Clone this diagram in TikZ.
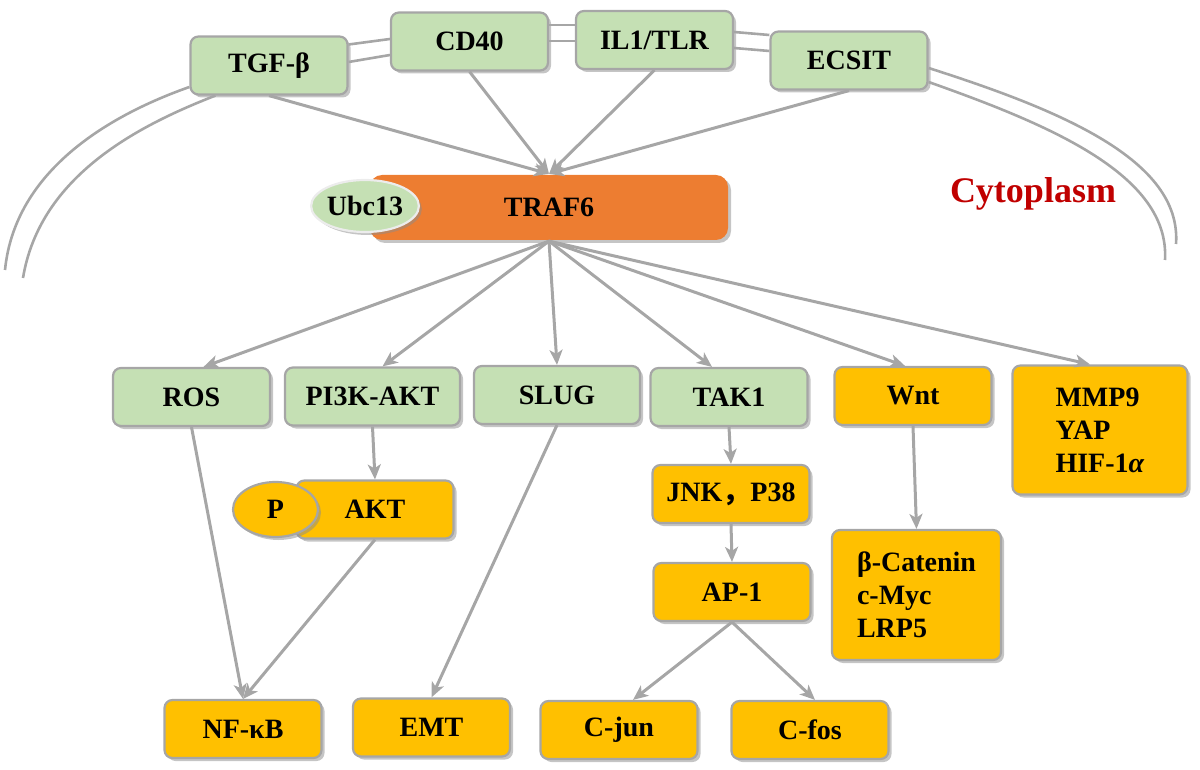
\documentclass[tikz,border=0pt]{standalone}
\usepackage{fontspec}
\setmainfont{Liberation Serif}
\newfontfamily\cjkfont{Noto Sans CJK SC}
\usetikzlibrary{arrows.meta,shadows,shapes.geometric}
\definecolor{leafgreen}{HTML}{C5E0B4}
\definecolor{boxgold}{HTML}{FFC000}
\definecolor{trafOrange}{HTML}{ED7D31}
\definecolor{linegray}{HTML}{A6A6A6}
\definecolor{cytored}{HTML}{C00000}

\begin{document}
\begin{tikzpicture}[x=1pt,y=-1pt,
  cellbox/.style={rectangle, rounded corners=8pt, draw=linegray, line width=2.2pt,
    inner sep=0pt, minimum width=157pt, minimum height=58pt,
    font={\fontsize{28}{33}\selectfont\bfseries},
    drop shadow={shadow xshift=3pt, shadow yshift=-3pt, fill=black!45}},
  greenbox/.style={cellbox, fill=leafgreen},
  goldbox/.style={cellbox, fill=boxgold},
  ovalcell/.style={ellipse, inner sep=0pt, line width=2.2pt,
    font={\fontsize{28}{33}\selectfont\bfseries},
    drop shadow={shadow xshift=3pt, shadow yshift=-3pt, fill=black!45}},
  arr/.style={draw=linegray, line width=3pt, -{Stealth[length=15pt, width=13pt, inset=4pt]}},
  memline/.style={draw=linegray, line width=2.6pt}]
\useasboundingbox (0,0) rectangle (1200,770);

% receptors on the membrane
\node[greenbox] (tgf) at (269,65.5) {TGF-β};
\node[greenbox] (cd40) at (469.5,41.5) {CD40};
\node[greenbox] (il1) at (654.5,40) {IL1/TLR};
\node[greenbox] (ecsit) at (849,60.5) {ECSIT};
\coordinate (memL1) at (5,270);
\coordinate (memL2) at (23,278);
\coordinate (memR1) at (1176,244);
\coordinate (memR2) at (1165,260);

\draw[memline] ([yshift=21pt]tgf.east) -- ([yshift=2.5pt]cd40.west);
\draw[memline] ([yshift=3.5pt]tgf.east) -- ([yshift=-13.5pt]cd40.west);
\draw[memline] ([yshift=16.5pt]cd40.east) -- ([yshift=15pt]il1.west);
\draw[memline] ([yshift=0.5pt]cd40.east) -- ([yshift=-1pt]il1.west);
\draw[memline] ([yshift=8pt]il1.east) -- ([yshift=25.5pt]ecsit.west);
\draw[memline] ([yshift=-8pt]il1.east) -- ([yshift=9.5pt]ecsit.west);
\draw[memline] ([yshift=-21.5pt]tgf.west) .. controls (110,115) and (15,170) .. (memL1);
\draw[memline] ([xshift=26pt]tgf.south west) .. controls (140,125) and (40,175) .. (memL2);
\draw[memline] ([yshift=-7.5pt]ecsit.east) .. controls (1060,110) and (1182,160) .. (memR1);
\draw[memline] ([yshift=-21.5pt]ecsit.east) .. controls (1050,125) and (1170,175) .. (memR2);

\node[font={\fontsize{36}{40}\selectfont\bfseries}, text=cytored] (cyto) at (1033,194) {Cytoplasm};

% adaptor
\node[cellbox, draw=none, fill=trafOrange, rounded corners=12pt, minimum width=358pt, minimum height=65pt] (traf) at (549,207.5) {TRAF6};
\node[ovalcell, draw=white!85!gray, fill=leafgreen, minimum width=100pt, minimum height=52pt] (ubc) at (365,206) {Ubc13};

% downstream
\node[greenbox] (ros) at (191.5,397) {ROS};
\node[greenbox, minimum width=175pt] (pi3k) at (372.5,396.5) {PI3K-AKT};
\node[greenbox, minimum width=166pt] (slug) at (557,395) {SLUG};
\node[greenbox] (tak1) at (729,397) {TAK1};
\node[goldbox] (wnt) at (913,396) {Wnt};
\node[goldbox, minimum width=175pt, minimum height=129pt, align=left] (mmp) at (1100,430) {MMP9\\YAP\\HIF-1\textit{α}};

\node[goldbox] (akt) at (375,509.5) {AKT};
\node[ovalcell, draw=linegray, fill=boxgold, minimum width=85pt, minimum height=55pt] (p) at (275.5,509.5) {P};
\node[goldbox] (jnk) at (731,494) {JNK{\cjkfont ，}P38};
\node[goldbox] (ap1) at (732,592) {AP-1};
\node[goldbox, minimum width=169pt, minimum height=130pt, align=left] (bcat) at (916.5,595) {β-Catenin\\c-Myc\\LRP5};

\node[goldbox] (nfkb) at (243,729) {NF-κB};
\node[goldbox] (emt) at (431.5,727.5) {EMT};
\node[goldbox] (cjun) at (619,730) {C-jun};
\node[goldbox] (cfos) at (810,730) {C-fos};

% arrows
\foreach \src in {tgf,cd40,il1,ecsit}
  \draw[arr] (\src.south) -- (traf.north);
\draw[arr] (traf.south) -- ([xshift=12pt]ros.north);
\draw[arr] (traf.south) -- ([xshift=10pt]pi3k.north);
\draw[arr] (traf.south) -- (slug.north);
\draw[arr] (traf.south) -- ([xshift=-17pt]tak1.north);
\draw[arr] (traf.south) -- ([xshift=-8pt]wnt.north);
\draw[arr] (traf.south) -- ([xshift=-10pt]mmp.north);
\draw[arr] (pi3k.south) -- (akt.north);
\draw[arr] (tak1.south) -- (jnk.north);
\draw[arr] (jnk.south) -- (ap1.north);
\draw[arr] (wnt.south) -- (bcat.north);
\draw[arr] (ros.south) -- (nfkb.north);
\draw[arr] (akt.south) -- (nfkb.north);
\draw[arr] (slug.south) -- (emt.north);
\draw[arr] (ap1.south) -- ([xshift=14pt]cjun.north);
\draw[arr] (ap1.south) -- ([xshift=5pt]cfos.north);
\end{tikzpicture}
\end{document}
